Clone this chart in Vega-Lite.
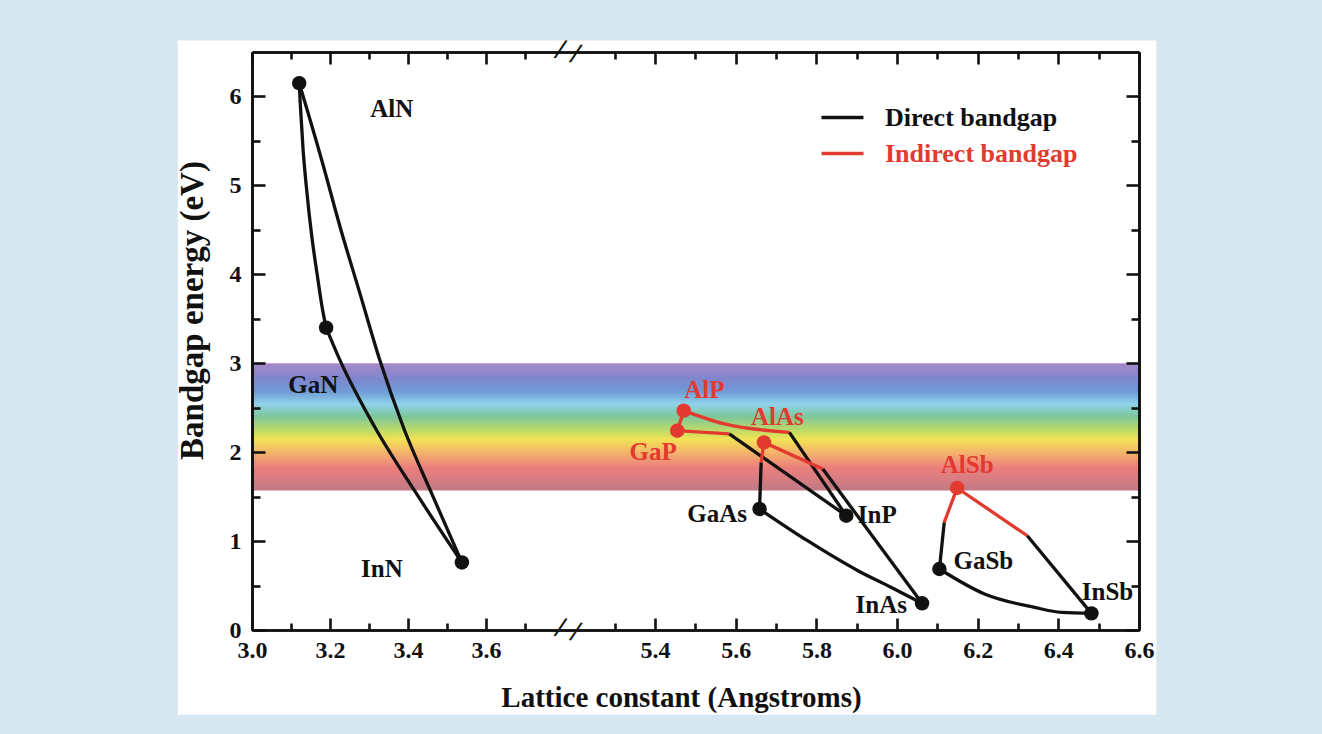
{
  "$schema": "https://vega.github.io/schema/vega-lite/v6.json",
  "width": 887,
  "height": 578,
  "autosize": {"type": "none"},
  "padding": {"left": 252, "top": 52, "right": 183, "bottom": 104},
  "background": "#d6e7f2",
  "config": {
    "view": {"stroke": null},
    "axis": {
      "domainColor": "#111111", "domainWidth": 2.6, "tickColor": "#111111", "tickWidth": 2.6, "grid": false,
      "labelFont": "Liberation Serif", "labelFontWeight": "bold", "labelFontSize": 24, "labelColor": "#111111",
      "titleFont": "Liberation Serif", "titleFontWeight": "bold", "titleColor": "#111111"
    }
  },
  "datasets": {
    "panel": [{"x1": 2.81, "x2": 6.643, "y1": -0.953, "y2": 6.629}],
    "band": [{"x1": 3.0, "x2": 6.6, "y1": 1.57, "y2": 3.0}],
    "lines": [
      {"s": "AlN-GaN", "o": 1, "a": 3.121, "e": 6.15, "g": "Direct bandgap"},
      {"s": "AlN-GaN", "o": 2, "a": 3.124, "e": 5.9, "g": "Direct bandgap"},
      {"s": "AlN-GaN", "o": 3, "a": 3.131, "e": 5.4, "g": "Direct bandgap"},
      {"s": "AlN-GaN", "o": 4, "a": 3.139, "e": 5.0, "g": "Direct bandgap"},
      {"s": "AlN-GaN", "o": 5, "a": 3.154, "e": 4.4, "g": "Direct bandgap"},
      {"s": "AlN-GaN", "o": 6, "a": 3.167, "e": 4.0, "g": "Direct bandgap"},
      {"s": "AlN-GaN", "o": 7, "a": 3.179, "e": 3.65, "g": "Direct bandgap"},
      {"s": "AlN-GaN", "o": 8, "a": 3.190, "e": 3.40, "g": "Direct bandgap"},
      {"s": "AlN-InN", "o": 1, "a": 3.121, "e": 6.15, "g": "Direct bandgap"},
      {"s": "AlN-InN", "o": 2, "a": 3.179, "e": 5.28, "g": "Direct bandgap"},
      {"s": "AlN-InN", "o": 3, "a": 3.226, "e": 4.53, "g": "Direct bandgap"},
      {"s": "AlN-InN", "o": 4, "a": 3.277, "e": 3.78, "g": "Direct bandgap"},
      {"s": "AlN-InN", "o": 5, "a": 3.328, "e": 3.03, "g": "Direct bandgap"},
      {"s": "AlN-InN", "o": 6, "a": 3.388, "e": 2.28, "g": "Direct bandgap"},
      {"s": "AlN-InN", "o": 7, "a": 3.461, "e": 1.53, "g": "Direct bandgap"},
      {"s": "AlN-InN", "o": 8, "a": 3.538, "e": 0.76, "g": "Direct bandgap"},
      {"s": "GaN-InN", "o": 1, "a": 3.190, "e": 3.40, "g": "Direct bandgap"},
      {"s": "GaN-InN", "o": 2, "a": 3.226, "e": 3.03, "g": "Direct bandgap"},
      {"s": "GaN-InN", "o": 3, "a": 3.315, "e": 2.28, "g": "Direct bandgap"},
      {"s": "GaN-InN", "o": 4, "a": 3.422, "e": 1.53, "g": "Direct bandgap"},
      {"s": "GaN-InN", "o": 5, "a": 3.538, "e": 0.76, "g": "Direct bandgap"},
      {"s": "AlP-GaP", "o": 1, "a": 5.455, "e": 2.242, "g": "Indirect bandgap"},
      {"s": "AlP-GaP", "o": 2, "a": 5.471, "e": 2.467, "g": "Indirect bandgap"},
      {"s": "AlP-InP-i", "o": 1, "a": 5.471, "e": 2.467, "g": "Indirect bandgap"},
      {"s": "AlP-InP-i", "o": 2, "a": 5.572, "e": 2.317, "g": "Indirect bandgap"},
      {"s": "AlP-InP-i", "o": 3, "a": 5.733, "e": 2.223, "g": "Indirect bandgap"},
      {"s": "AlP-InP-d", "o": 1, "a": 5.733, "e": 2.223, "g": "Direct bandgap"},
      {"s": "AlP-InP-d", "o": 2, "a": 5.874, "e": 1.286, "g": "Direct bandgap"},
      {"s": "GaP-InP-i", "o": 1, "a": 5.455, "e": 2.242, "g": "Indirect bandgap"},
      {"s": "GaP-InP-i", "o": 2, "a": 5.584, "e": 2.205, "g": "Indirect bandgap"},
      {"s": "GaP-InP-d", "o": 1, "a": 5.584, "e": 2.205, "g": "Direct bandgap"},
      {"s": "GaP-InP-d", "o": 2, "a": 5.874, "e": 1.286, "g": "Direct bandgap"},
      {"s": "AlAs-GaAs-d", "o": 1, "a": 5.659, "e": 1.361, "g": "Direct bandgap"},
      {"s": "AlAs-GaAs-d", "o": 2, "a": 5.663, "e": 1.885, "g": "Direct bandgap"},
      {"s": "AlAs-GaAs-i", "o": 1, "a": 5.663, "e": 1.885, "g": "Indirect bandgap"},
      {"s": "AlAs-GaAs-i", "o": 2, "a": 5.670, "e": 2.110, "g": "Indirect bandgap"},
      {"s": "AlAs-InAs-i", "o": 1, "a": 5.670, "e": 2.110, "g": "Indirect bandgap"},
      {"s": "AlAs-InAs-i", "o": 2, "a": 5.816, "e": 1.811, "g": "Indirect bandgap"},
      {"s": "AlAs-InAs-d", "o": 1, "a": 5.816, "e": 1.811, "g": "Direct bandgap"},
      {"s": "AlAs-InAs-d", "o": 2, "a": 6.062, "e": 0.30, "g": "Direct bandgap"},
      {"s": "GaAs-InAs", "o": 1, "a": 5.659, "e": 1.361, "g": "Direct bandgap"},
      {"s": "GaAs-InAs", "o": 2, "a": 5.778, "e": 1.004, "g": "Direct bandgap"},
      {"s": "GaAs-InAs", "o": 3, "a": 5.903, "e": 0.667, "g": "Direct bandgap"},
      {"s": "GaAs-InAs", "o": 4, "a": 5.986, "e": 0.479, "g": "Direct bandgap"},
      {"s": "GaAs-InAs", "o": 5, "a": 6.062, "e": 0.30, "g": "Direct bandgap"},
      {"s": "AlSb-GaSb-i", "o": 1, "a": 6.117, "e": 1.21, "g": "Indirect bandgap"},
      {"s": "AlSb-GaSb-i", "o": 2, "a": 6.149, "e": 1.597, "g": "Indirect bandgap"},
      {"s": "AlSb-GaSb-d", "o": 1, "a": 6.105, "e": 0.686, "g": "Direct bandgap"},
      {"s": "AlSb-GaSb-d", "o": 2, "a": 6.117, "e": 1.21, "g": "Direct bandgap"},
      {"s": "AlSb-InSb-i", "o": 1, "a": 6.149, "e": 1.597, "g": "Indirect bandgap"},
      {"s": "AlSb-InSb-i", "o": 2, "a": 6.323, "e": 1.06, "g": "Indirect bandgap"},
      {"s": "AlSb-InSb-d", "o": 1, "a": 6.323, "e": 1.06, "g": "Direct bandgap"},
      {"s": "AlSb-InSb-d", "o": 2, "a": 6.482, "e": 0.187, "g": "Direct bandgap"},
      {"s": "GaSb-InSb", "o": 1, "a": 6.105, "e": 0.686, "g": "Direct bandgap"},
      {"s": "GaSb-InSb", "o": 2, "a": 6.217, "e": 0.405, "g": "Direct bandgap"},
      {"s": "GaSb-InSb", "o": 3, "a": 6.341, "e": 0.254, "g": "Direct bandgap"},
      {"s": "GaSb-InSb", "o": 4, "a": 6.408, "e": 0.198, "g": "Direct bandgap"},
      {"s": "GaSb-InSb", "o": 5, "a": 6.482, "e": 0.187, "g": "Direct bandgap"}
    ],
    "compounds": [
      {"name": "AlN", "a": 3.121, "e": 6.15, "g": "Direct bandgap", "lx": 3.358, "ly": 5.86},
      {"name": "GaN", "a": 3.190, "e": 3.40, "g": "Direct bandgap", "lx": 3.157, "ly": 2.75},
      {"name": "InN", "a": 3.538, "e": 0.76, "g": "Direct bandgap", "lx": 3.333, "ly": 0.69},
      {"name": "AlP", "a": 5.471, "e": 2.467, "g": "Indirect bandgap", "lx": 5.522, "ly": 2.70},
      {"name": "GaP", "a": 5.455, "e": 2.242, "g": "Indirect bandgap", "lx": 5.395, "ly": 2.00},
      {"name": "AlAs", "a": 5.670, "e": 2.110, "g": "Indirect bandgap", "lx": 5.703, "ly": 2.40},
      {"name": "GaAs", "a": 5.659, "e": 1.361, "g": "Direct bandgap", "lx": 5.554, "ly": 1.31},
      {"name": "InP", "a": 5.874, "e": 1.286, "g": "Direct bandgap", "lx": 5.951, "ly": 1.29},
      {"name": "InAs", "a": 6.062, "e": 0.30, "g": "Direct bandgap", "lx": 5.961, "ly": 0.285},
      {"name": "AlSb", "a": 6.149, "e": 1.597, "g": "Indirect bandgap", "lx": 6.174, "ly": 1.85},
      {"name": "GaSb", "a": 6.105, "e": 0.686, "g": "Direct bandgap", "lx": 6.214, "ly": 0.78},
      {"name": "InSb", "a": 6.482, "e": 0.187, "g": "Direct bandgap", "lx": 6.522, "ly": 0.43}
    ],
    "breaks": [{"a": 3.81, "e": 0}, {"a": 3.81, "e": 6.5}]
  },
  "layer": [
    {
      "data": {"name": "panel"},
      "mark": {"type": "rect", "fill": "white"},
      "encoding": {
        "x": {"field": "x1", "type": "quantitative", "scale": {"domain": [3.0, 3.81, 5.184, 6.6], "range": [0, 316, 316, 887], "nice": false, "zero": false}, "axis": null},
        "x2": {"field": "x2"},
        "y": {"field": "y1", "type": "quantitative", "scale": {"domain": [0, 6.5], "nice": false, "zero": false}, "axis": null},
        "y2": {"field": "y2"}
      }
    },
    {
      "data": {"name": "band"},
      "mark": {
        "type": "rect",
        "fill": {
          "gradient": "linear", "x1": 0, "y1": 0, "x2": 0, "y2": 1,
          "stops": [
            {"offset": 0, "color": "#a889c9"},
            {"offset": 0.12, "color": "#7f86cc"},
            {"offset": 0.22, "color": "#6f9ad6"},
            {"offset": 0.32, "color": "#8fd3ea"},
            {"offset": 0.42, "color": "#7cc79a"},
            {"offset": 0.52, "color": "#b9d96a"},
            {"offset": 0.60, "color": "#f2e255"},
            {"offset": 0.70, "color": "#f3b46a"},
            {"offset": 0.82, "color": "#ec7f7e"},
            {"offset": 1, "color": "#c27a84"}
          ]
        }
      },
      "encoding": {
        "x": {"field": "x1", "type": "quantitative", "scale": {"domain": [3.0, 3.81, 5.184, 6.6], "range": [0, 316, 316, 887], "nice": false, "zero": false},
          "axis": {"orient": "bottom", "zindex": 1, "values": [3.0, 3.2, 3.4, 3.6, 5.4, 5.6, 5.8, 6.0, 6.2, 6.4, 6.6], "format": ".1f", "tickSize": -12, "labelPadding": 20, "labelFontSize": 24, "labelFlush": false, "labelOverlap": false, "labelBound": false,
            "title": "Lattice constant (Angstroms)", "titleFontSize": 29, "titleX": 429, "titleY": 76, "titleBaseline": "alphabetic", "titleAlign": "center"}},
        "x2": {"field": "x2"},
        "y": {"field": "y1", "type": "quantitative", "scale": {"domain": [0, 6.5], "nice": false, "zero": false},
          "axis": {"orient": "left", "zindex": 1, "values": [0, 1, 2, 3, 4, 5, 6], "format": "d", "tickSize": -13, "labelPadding": 24, "labelFontSize": 24, "labelOverlap": false, "labelFlush": false,
            "title": "Bandgap energy (eV)", "titleFontSize": 33, "titleX": -50, "titleY": 258, "titleBaseline": "alphabetic", "titleAngle": -90, "titleAlign": "center"}},
        "y2": {"field": "y2"}
      }
    },
    {
      "data": {"name": "lines"},
      "mark": {"type": "line", "strokeWidth": 3.3, "interpolate": "monotone"},
      "encoding": {
        "x": {"field": "a", "type": "quantitative", "scale": {"domain": [3.0, 3.81, 5.184, 6.6], "range": [0, 316, 316, 887], "nice": false, "zero": false},
          "axis": {"orient": "bottom", "zindex": 1, "values": [3.1, 3.3, 3.5, 3.7, 5.3, 5.5, 5.7, 5.9, 6.1, 6.3, 6.5], "tickSize": -7, "labels": false, "title": null}},
        "y": {"field": "e", "type": "quantitative", "scale": {"domain": [0, 6.5], "nice": false, "zero": false},
          "axis": {"orient": "left", "zindex": 1, "values": [0.5, 1.5, 2.5, 3.5, 4.5, 5.5], "tickSize": -8, "labels": false, "title": null}},
        "detail": {"field": "s"},
        "order": {"field": "o", "type": "quantitative"},
        "color": {"field": "g", "type": "nominal",
          "scale": {"domain": ["Direct bandgap", "Indirect bandgap"], "range": ["#111111", "#e23a2e"]},
          "legend": {"orient": "none", "legendX": 571, "legendY": 46, "title": null, "padding": 0,
            "symbolType": "M-1.2,0H1.2", "symbolSize": 1225, "symbolStrokeWidth": 3.3,
            "labelFont": "Liberation Serif", "labelFontWeight": "bold", "labelFontSize": 26, "labelOffset": 23, "rowPadding": 3,
            "labelLimit": 400,
            "encode": {"labels": {"update": {"fill": {"signal": "datum.value === 'Direct bandgap' ? '#111111' : '#e23a2e'"}}}}}
        }
      }
    },
    {
      "data": {"name": "compounds"},
      "mark": {"type": "point", "filled": true, "size": 210, "opacity": 1},
      "encoding": {
        "x": {"field": "a", "type": "quantitative", "scale": {"domain": [3.0, 3.81, 5.184, 6.6], "range": [0, 316, 316, 887], "nice": false, "zero": false},
          "axis": {"orient": "top", "zindex": 1, "values": [3.0, 3.2, 3.4, 3.6, 5.4, 5.6, 5.8, 6.0, 6.2, 6.4, 6.6], "tickSize": -12, "labels": false, "title": null}},
        "y": {"field": "e", "type": "quantitative", "scale": {"domain": [0, 6.5], "nice": false, "zero": false},
          "axis": {"orient": "right", "zindex": 1, "values": [0, 1, 2, 3, 4, 5, 6], "tickSize": -13, "labels": false, "title": null}},
        "color": {"field": "g", "type": "nominal", "legend": null}
      }
    },
    {
      "data": {"name": "compounds"},
      "mark": {"type": "text", "font": "Liberation Serif", "fontWeight": "bold", "fontSize": 25, "align": "center", "baseline": "middle"},
      "encoding": {
        "x": {"field": "lx", "type": "quantitative", "scale": {"domain": [3.0, 3.81, 5.184, 6.6], "range": [0, 316, 316, 887], "nice": false, "zero": false},
          "axis": {"orient": "top", "zindex": 1, "values": [3.1, 3.3, 3.5, 3.7, 5.3, 5.5, 5.7, 5.9, 6.1, 6.3, 6.5], "tickSize": -7, "labels": false, "title": null}},
        "y": {"field": "ly", "type": "quantitative", "scale": {"domain": [0, 6.5], "nice": false, "zero": false},
          "axis": {"orient": "right", "zindex": 1, "values": [0.5, 1.5, 2.5, 3.5, 4.5, 5.5], "tickSize": -8, "labels": false, "title": null}},
        "text": {"field": "name"},
        "color": {"field": "g", "type": "nominal", "legend": null}
      }
    },
    {
      "data": {"name": "breaks"},
      "mark": {"type": "text", "text": "/ /", "font": "Liberation Serif", "fontWeight": "bold", "fontSize": 30, "angle": 15, "align": "center", "baseline": "middle", "color": "#111111"},
      "encoding": {
        "x": {"field": "a", "type": "quantitative", "scale": {"domain": [3.0, 3.81, 5.184, 6.6], "range": [0, 316, 316, 887], "nice": false, "zero": false}, "axis": null},
        "y": {"field": "e", "type": "quantitative", "scale": {"domain": [0, 6.5], "nice": false, "zero": false}, "axis": null}
      }
    }
  ],
  "resolve": {"axis": {"x": "independent", "y": "independent"}}
}
